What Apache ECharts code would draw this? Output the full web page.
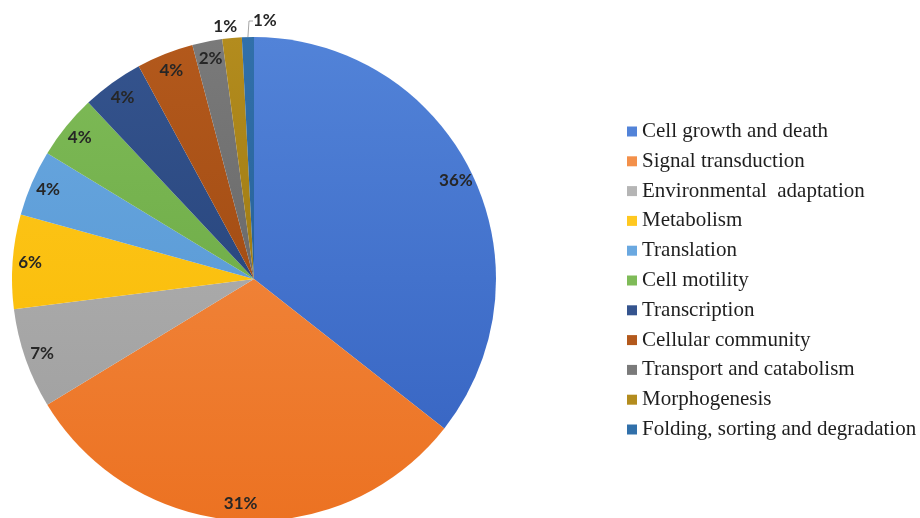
<!DOCTYPE html>
<html><head><meta charset="utf-8">
<script src="https://cdn.jsdelivr.net/npm/echarts@6/dist/echarts.min.js"></script>
<style>html,body{margin:0;padding:0;background:#fff}#c{width:920px;height:518px}</style>
</head><body><div id="c"></div>
<script>
const categories = ["Cell growth and death","Signal transduction","Environmental  adaptation","Metabolism","Translation","Cell motility","Transcription","Cellular community","Transport and catabolism","Morphogenesis","Folding, sorting and degradation"];
const values = [35.6,30.7,6.7,6.3,4.4,4.3,4.1,3.8,2.0,1.3,0.8];
const colorsTop = ["#5283d8","#f3904a","#b5b5b5","#ffc820","#6aa8e0","#7fbb58","#35548e","#b3591c","#7a7a7a","#b38c1e","#3170aa"];
const colorsBottom = ["#3461c0","#ec7222","#9d9d9d","#f7b900","#5193d0","#64a33d","#1f3c72","#96430d","#5c5c5c","#8e6c09","#20578a"];

const chart = echarts.init(document.getElementById('c'));
const center = [254, 279];
const R = 242;
function grad(i){
  return new echarts.graphic.LinearGradient(0, 36, 0, 520, [
    {offset:0,color:colorsTop[i]},{offset:1,color:colorsBottom[i]}], true);
}
const mainData = categories.map((n,i)=>({name:n,value:values[i],itemStyle:{color:grad(i)}}));
const labelData = categories.map((n,i)=>{
  const d = {name:n,value:values[i]};
  if (i >= 9) {
    d.label = {position:'outside'};
    d.labelLine = {show: i===10, length: 12, length2: 4, lineStyle:{color:'#a6a6a6', width:1}};
  }
  return d;
});
chart.setOption({
  animation:false,
  color: colorsBottom,
  legend:{
    orient:'vertical', left:622, top:116, itemWidth:10, itemHeight:10, itemGap:8.8,
    icon:'rect',
    textStyle:{fontFamily:'Liberation Serif', fontSize:21, color:'#1e1e1e'},
    data: categories
  },
  series:[
    {type:'pie', center:center, radius:[0,R], startAngle:90, clockwise:true,
     label:{show:false}, labelLine:{show:false}, data: mainData, silent:true,
     itemStyle:{borderWidth:0}},
    {type:'pie', center:center, radius:[R*0.83,R], startAngle:90, clockwise:true,
     percentPrecision:0, silent:true, legendHoverLink:false, avoidLabelOverlap:false,
     itemStyle:{color:'rgba(0,0,0,0)'},
     emphasis:{disabled:true},
     label:{show:true, position:'inside', formatter:'{d}%', fontFamily:'Lato', fontWeight:'bold', fontSize:17, color:'#262626'},
     labelLine:{show:false},
     labelLayout: function(p){
       if (p.dataIndex === 9) {
         return {x: p.rect.x + 15, y: p.rect.y - 11, align:'right', verticalAlign:'middle'};
       }
       if (p.dataIndex === 10) {
         return {x: p.rect.x + p.rect.width - 1, y: p.rect.y - 16, align:'left', verticalAlign:'middle'};
       }
       return {};
     },
     data: labelData}
  ]
});
</script></body></html>
